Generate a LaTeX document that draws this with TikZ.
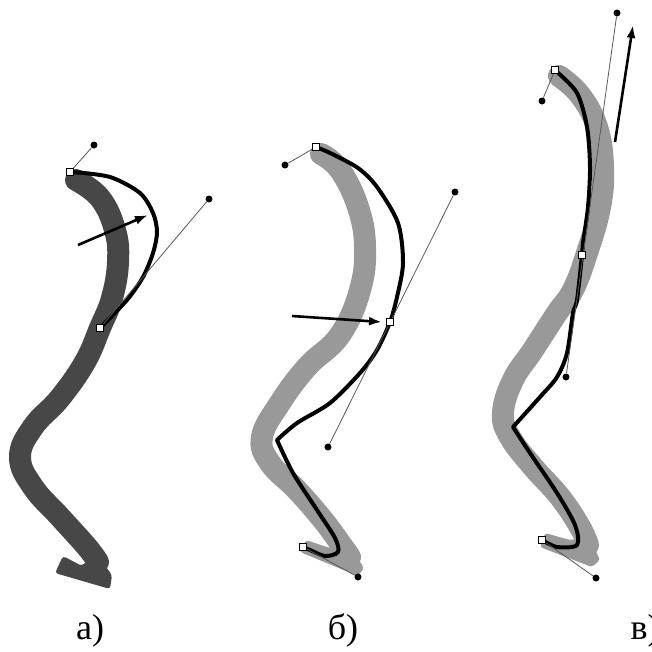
\documentclass[tikz,border=0pt]{standalone}
\usepackage{fontspec}
\setmainfont{Liberation Serif}
\usetikzlibrary{arrows.meta}
\definecolor{inkdark}{gray}{0.28}
\definecolor{inklight}{gray}{0.6}
\begin{document}
\begin{tikzpicture}[x=1pt,y=-1pt,
  brush/.style={line width=22pt,line cap=round,line join=round},
  bent/.style={line width=4pt,line join=round,line cap=round},
  handle/.style={gray!70!black,line width=0.8pt},
  knot/.style={circle,fill=black,inner sep=0pt,minimum size=7pt},
  vertex/.style={rectangle,draw=black,fill=white,line width=0.6pt,inner sep=0pt,minimum size=7pt},
  push/.style={-{Latex[length=13pt,width=9pt]},line width=2.6pt},
  lbl/.style={font=\fontsize{36}{40}\selectfont,anchor=base,inner sep=0pt}]
  \useasboundingbox (0,0) rectangle (652,651);

  % a) dark brush stroke, first segment pulled out
  \draw[brush,inkdark] plot[smooth,tension=0.7] coordinates {(76,180) (100,198) (115,230) (118,262) (112,298) (100,328) (85,362) (60,398) (33,427) (20,457) (33,487) (60,517) (87,547) (98,562)};
  \fill[inkdark,rounded corners=3pt] (55,573) -- (63,556) -- (82,566) -- (95,552) -- (112,575) -- (110,589) -- cycle;
  \draw[bent] plot[smooth] coordinates {(72,172) (110,177) (140,193) (153,213) (157,232) (153,253) (143,277) (127,300) (102,326)};

  % b) light brush with the fitted path on top
  \draw[brush,inklight] plot[smooth,tension=0.7] coordinates {(321,154) (340,170) (358,207) (365,247) (360,290) (340,335) (307,367) (280,403) (262,437) (270,463) (297,490) (323,520) (340,543) (350,557)};
  \fill[inklight,rounded corners=3pt] (300,552) -- (306,540) -- (330,548) -- (350,546) -- (364,568) -- (358,576) -- cycle;
  \draw[bent] plot[smooth] coordinates {(316,147) (330,153) (358,168) (377,187) (398,223) (403,263) (397,297) (390,322) (377,350) (360,373) (330,403) (297,423) (277,440)}
    -- plot[smooth] coordinates {(277,440) (293,473) (317,510) (335,538) (338,552) (325,556) (310,550) (303,547)};

  % c) light brush, path dragged upwards
  \draw[brush,inklight] plot[smooth,tension=0.7] coordinates {(559,76) (580,95) (597,127) (603,167) (600,207) (587,253) (573,290) (557,313) (533,350) (513,380) (503,413) (510,437) (533,467) (560,497) (580,527) (588,545)};
  \fill[inklight,rounded corners=3pt] (540,547) -- (545,533) -- (570,540) -- (590,538) -- (600,560) -- (592,567) -- cycle;
  \draw[bent] plot[smooth] coordinates {(557,72) (577,93) (587,127) (590,167) (588,207) (583,243) (582,255) (577,300) (573,313) (567,353) (557,377) (540,397) (513,427)}
    -- plot[smooth] coordinates {(513,427) (530,453) (557,493) (575,525) (577,545) (557,547) (542,540)};

  % knots and handles
  \node[knot] (ah1) at (94,145) {};
  \node[knot] (ah2) at (209,199) {};
  \coordinate (av1) at (70,172);
  \coordinate (av2) at (100,328);
  \draw[handle] (av1) -- (ah1);
  \draw[handle] (av2) -- (ah2);
  \node[vertex] (avb1) at (av1) {};
  \node[vertex] (avb2) at (av2) {};

  \node[knot] (bh1) at (285,165) {};
  \node[knot] (bh2) at (455,192) {};
  \node[knot] (bh3) at (328,447) {};
  \node[knot] (bh4) at (358,577) {};
  \coordinate (bv1) at (316,147);
  \coordinate (bv2) at (390,322);
  \coordinate (bv3) at (303,547);
  \draw[handle] (bv1) -- (bh1);
  \draw[handle] (bh2) -- (bh3);
  \draw[handle] (bv3) -- (bh4);
  \node[vertex] (bvb1) at (bv1) {};
  \node[vertex] (bvb2) at (bv2) {};
  \node[vertex] (bvb3) at (bv3) {};

  \node[knot] (ch1) at (542,101) {};
  \node[knot] (ch2) at (617,13) {};
  \node[knot] (ch3) at (566,377) {};
  \node[knot] (ch4) at (596,578) {};
  \coordinate (cv1) at (555,70);
  \coordinate (cv2) at (582,255);
  \coordinate (cv3) at (542,540);
  \draw[handle] (cv1) -- (ch1);
  \draw[handle] (ch2) -- (ch3);
  \draw[handle] (cv3) -- (ch4);
  \node[vertex] (cvb1) at (cv1) {};
  \node[vertex] (cvb2) at (cv2) {};
  \node[vertex] (cvb3) at (cv3) {};

  % drag directions
  \coordinate (pa0) at (78,245);   \coordinate (pa1) at (148,215);
  \coordinate (pb0) at (292,316);  \coordinate (pb1) at (382,322);
  \coordinate (pc0) at (615,142);  \coordinate (pc1) at (633,25);
  \draw[push] (pa0) -- (pa1);
  \draw[push] (pb0) -- (pb1);
  \draw[push] (pc0) -- (pc1);

  \node[lbl] (capa) at (90,639) {а)};
  \node[lbl] (capb) at (343,639) {б)};
  \node[lbl] (capc) at (645,639) {в)};
\end{tikzpicture}
\end{document}
